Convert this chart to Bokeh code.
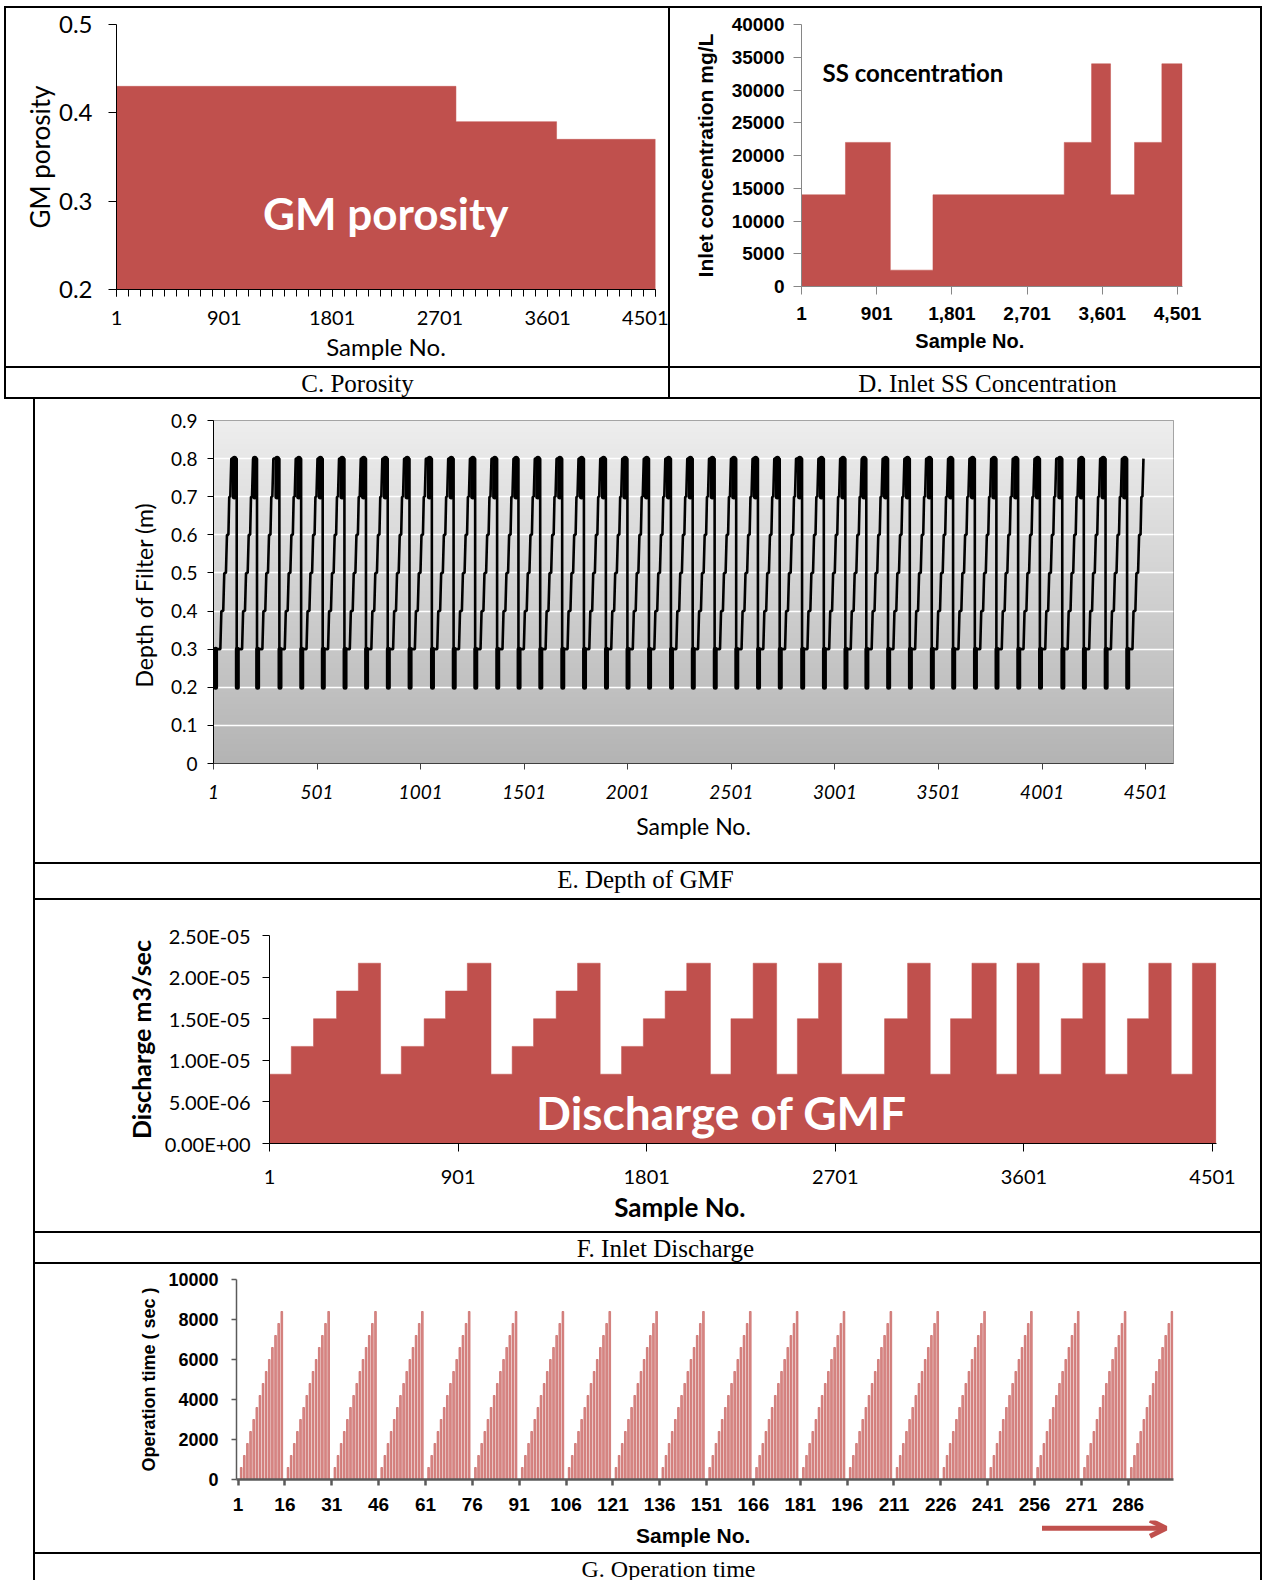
import numpy as np
from bokeh.plotting import figure
from bokeh.layouts import row, column
from bokeh.models import (Range1d, FixedTicker, Label, Arrow, OpenHead,
                          NumeralTickFormatter, CustomJSTickFormatter)
from bokeh.embed import file_html
from bokeh.resources import INLINE

RED = "#C0504D"
NBSP = "\u00a0"

# ---------------- data ----------------
# C. GM porosity (step values by sample number)
por_start = [1, 2835, 3675]
por_value = [0.43, 0.39, 0.37]
por_last = 4501

# D. Inlet SS concentration (mg/L)
ss_start = [1, 527, 1064, 1574, 3145, 3472, 3699, 3986, 4313]
ss_value = [14000, 22000, 2500, 14000, 22000, 34000, 14000, 22000, 34000]
ss_last = 4555

# E. Depth of filter: sample at which each cycle drops back to the bottom,
# and the staircase (offset from drop, depth) followed inside every cycle
depth_drop = [5, 110, 208, 316, 421, 525, 630, 734, 839, 944, 1052, 1157, 1261,
              1367, 1470, 1575, 1681, 1786, 1892, 1996, 2100, 2206, 2311, 2417,
              2521, 2626, 2731, 2839, 2944, 3048, 3149, 3254, 3359, 3465, 3568,
              3673, 3777, 3882, 3987, 4095, 4199, 4304, 4408]
depth_stair_offset = [3, 29, 34, 43, 48, 56, 61, 68, 72, 77, 82]
depth_stair_level = [0.3, 0.3, 0.4, 0.4, 0.5, 0.5, 0.6, 0.6, 0.7, 0.7, 0.8]
depth_bottom = [0.2, 0.3]
depth_top = [0.7, 0.8]

# F. Inlet discharge (m3/sec)
q_start = [1, 105, 211, 321, 425, 531, 630, 739, 841, 945, 1058, 1159, 1261, 1369,
           1471, 1579, 1681, 1785, 1889, 1992, 2105, 2203, 2309, 2421, 2520, 2621,
           2731, 2936, 3046, 3154, 3251, 3353, 3469, 3568, 3674, 3779, 3882, 3989,
           4095, 4197, 4304, 4405]
q_value = [8.33e-6, 1.167e-5, 1.5e-5, 1.833e-5, 2.167e-5,
           8.33e-6, 1.167e-5, 1.5e-5, 1.833e-5, 2.167e-5,
           8.33e-6, 1.167e-5, 1.5e-5, 1.833e-5, 2.167e-5,
           8.33e-6, 1.167e-5, 1.5e-5, 1.833e-5, 2.167e-5,
           8.33e-6, 1.5e-5, 2.167e-5,
           8.33e-6, 1.5e-5, 2.167e-5,
           8.33e-6, 1.5e-5, 2.167e-5,
           8.33e-6, 1.5e-5, 2.167e-5,
           8.33e-6, 2.167e-5,
           8.33e-6, 1.5e-5, 2.167e-5,
           8.33e-6, 1.5e-5, 2.167e-5,
           8.33e-6, 2.167e-5]
q_last = 4517

# G. Operation time (sec): one filtration run of 15 samples, repeated
op_run = [0, 600, 1200, 1800, 2400, 3000, 3600, 4200, 4800, 5400, 6000, 6600,
          7200, 7800, 8400]
op_runs = 20

c_ticks = [1, 901, 1801, 2701, 3601, 4501]
e_ticks = [1, 501, 1001, 1501, 2001, 2501, 3001, 3501, 4001, 4501]
g_ticks = [1, 16, 31, 46, 61, 76, 91, 106, 121, 136, 151, 166, 181, 196, 211,
           226, 241, 256, 271, 286]

WHITE_HOST = {"background-color": "white"}


def mkfig(w, h, xr, yr, left, right, top, bottom, **kw):
    p = figure(width=w, height=h, x_range=xr, y_range=yr, output_backend="svg",
               toolbar_location=None, min_border_left=left, min_border_right=right,
               min_border_top=top, min_border_bottom=bottom, frame_align=False,
               styles=WHITE_HOST, **kw)
    p.outline_line_color = None
    p.xgrid.visible = False
    p.ygrid.visible = False
    p.background_fill_color = "white"
    p.border_fill_color = "white"
    return p


def style(ax, font, size, bold=False, italic=False, line_color="black",
          tick_out=7, standoff=10, lab_font=None, lab_size=None, lab_bold=False,
          lab_standoff=6, width=1):
    ax.major_label_text_font = font
    ax.major_label_text_font_size = size
    ax.major_label_text_font_style = ("bold" if bold else ("italic" if italic else "normal"))
    ax.major_label_text_color = "black"
    ax.axis_line_color = line_color
    ax.axis_line_width = width
    ax.major_tick_line_color = line_color
    ax.major_tick_line_width = width
    ax.minor_tick_line_color = line_color
    ax.major_tick_out = tick_out
    ax.major_tick_in = 0
    ax.minor_tick_out = 0
    ax.minor_tick_in = 0
    ax.major_label_standoff = standoff
    ax.axis_label_text_font = lab_font or font
    ax.axis_label_text_font_size = lab_size or size
    ax.axis_label_text_font_style = "bold" if lab_bold else "normal"
    ax.axis_label_text_color = "black"
    ax.axis_label_standoff = lab_standoff


def step_patch(p, starts, values, last, base):
    xs, ys = [starts[0]], [base]
    ends = starts[1:] + [last]
    for s, e, v in zip(starts, ends, values):
        xs += [s, e]
        ys += [v, v]
    xs.append(last)
    ys.append(base)
    p.patch(xs, ys, fill_color=RED, line_color=RED, line_width=0.5)


def blank(w, h, xr, yr, left=0, right=0):
    p = figure(width=w, height=h, x_range=xr, y_range=yr, output_backend="svg",
               toolbar_location=None, x_axis_type=None, y_axis_type=None,
               min_border_left=left, min_border_right=right, min_border_top=0,
               min_border_bottom=0, frame_align=False, styles=WHITE_HOST)
    p.outline_line_color = None
    p.background_fill_color = "white"
    p.border_fill_color = "white"
    return p


def caption(w, h, text, cx, cy, size="25px"):
    p = blank(w, h, Range1d(0, w), Range1d(0, h))
    p.add_layout(Label(x=cx, y=h - cy, text=text, text_align="center",
                       text_baseline="middle", text_font="Liberation Serif",
                       text_font_size=size, text_color="black"))
    return p


# ---------------- C. Porosity ----------------
pC = mkfig(662, 358, Range1d(1, 4501), Range1d(0.2, 0.5), 110, 13, 16, 77)
step_patch(pC, por_start, por_value, por_last, 0.2)
pC.xaxis.ticker = FixedTicker(ticks=c_ticks, minor_ticks=list(range(1, 4502, 100)))
pC.yaxis.ticker = FixedTicker(ticks=[0.2, 0.3, 0.4, 0.5])
style(pC.xaxis[0], "Lato", "20px", tick_out=7, standoff=14, lab_size="24px", lab_standoff=4)
pC.xaxis.minor_tick_out = 7
style(pC.yaxis[0], "Lato", "24px", tick_out=8, standoff=16, lab_size="26px", lab_standoff=0)
pC.xaxis.axis_label = "Sample No."
pC.yaxis.axis_label = "GM porosity"
pC.add_layout(Label(x=2249, y=0.2864, text="GM porosity", text_align="center",
                    text_baseline="middle", text_font="Lato", text_font_style="bold",
                    text_font_size="44px", text_color="white"))

# ---------------- D. Inlet SS ----------------
pD = mkfig(590, 358, Range1d(1, 4560), Range1d(0, 40000), 131, 78, 16, 80)
step_patch(pD, ss_start, ss_value, ss_last, 0)
pD.xaxis.ticker = FixedTicker(ticks=c_ticks)
pD.xaxis.formatter = NumeralTickFormatter(format="0,0")
pD.yaxis.ticker = FixedTicker(ticks=list(range(0, 40001, 5000)))
style(pD.xaxis[0], "Liberation Sans", "19px", bold=True, line_color="#868686", tick_out=8,
      standoff=12, lab_size="20px", lab_bold=True, lab_standoff=7)
style(pD.yaxis[0], "Liberation Sans", "19px", bold=True, line_color="#868686", tick_out=8,
      standoff=9, lab_size="21px", lab_bold=True, lab_standoff=12)
pD.xaxis.axis_label = "Sample No." + NBSP * 8
pD.yaxis.axis_label = "Inlet concentration mg/L"
pD.add_layout(Label(x=252, y=32700, text="SS concentration", text_align="left",
                    text_baseline="middle", text_font="Lato", text_font_style="bold",
                    text_font_size="24px", text_color="black"))

# ---------------- E. Depth of GMF ----------------
E_X0, E_X1 = 1, 4635
pE = mkfig(1225, 463, Range1d(E_X0, E_X1), Range1d(0, 0.9), 178, 87, 21, 99)
grad = np.empty((256, 1), dtype=np.uint32)
gv = grad.view(dtype=np.uint8).reshape((256, 1, 4))
shade = np.linspace(180, 238, 256).astype(np.uint8)
gv[:, 0, 0] = shade
gv[:, 0, 1] = shade
gv[:, 0, 2] = shade
gv[:, 0, 3] = 255
rimg = pE.image_rgba(image=[grad], x=E_X0, y=0, dw=E_X1 - E_X0, dh=0.9)
rimg.level = "image"
pE.ygrid.visible = True
pE.ygrid.grid_line_color = "white"
pE.ygrid.grid_line_width = 1.5
pE.outline_line_color = "#8c8c8c"
ex, ey = [], []
for k, T in enumerate(depth_drop):
    if k > 0:
        ex.append(T + depth_stair_offset[0])
        ey.append(depth_top[1])
    for off, lev in zip(depth_stair_offset, depth_stair_level):
        ex.append(min(T + off, 4501))
        ey.append(lev)
pE.line(ex, ey, line_color="black", line_width=2.6)
bt = [T + 6 for T in depth_drop]
pE.segment(x0=bt, y0=[depth_bottom[0]] * len(bt), x1=bt, y1=[depth_bottom[1]] * len(bt),
           line_color="black", line_width=5, line_cap="round")
tt = [T - 8 for T in depth_drop[1:]]
pE.segment(x0=tt, y0=[depth_top[0]] * len(tt), x1=tt, y1=[depth_top[1]] * len(tt),
           line_color="black", line_width=5.5, line_cap="round")
pE.xaxis.ticker = FixedTicker(ticks=e_ticks)
yt = [0, 0.1, 0.2, 0.3, 0.4, 0.5, 0.6, 0.7, 0.8, 0.9]
pE.yaxis.ticker = FixedTicker(ticks=yt)
pE.ygrid.ticker = FixedTicker(ticks=yt)
pE.yaxis.major_label_overrides = {0: "0"}
style(pE.xaxis[0], "Lato", "19px", italic=True, line_color="#404040", tick_out=6, standoff=15,
      lab_size="23px", lab_standoff=10)
style(pE.yaxis[0], "Lato", "19px", line_color="black", tick_out=6, standoff=10,
      lab_size="23px", lab_standoff=10)
pE.xaxis.axis_label = "Sample No."
pE.yaxis.axis_label = "Depth  of Filter (m)"

# ---------------- F. Inlet Discharge ----------------
pF = mkfig(1225, 331, Range1d(1, 4520), Range1d(0, 2.5e-5), 234, 44, 35, 88)
step_patch(pF, q_start, q_value, q_last, 0)
pF.xaxis.ticker = FixedTicker(ticks=c_ticks)
pF.yaxis.ticker = FixedTicker(ticks=[0, 5e-6, 1e-5, 1.5e-5, 2e-5, 2.5e-5])
pF.yaxis.formatter = CustomJSTickFormatter(code="""
var s = tick.toExponential(2).toUpperCase();
return s.replace(/E([+-])(\\d)$/, function(m, a, b) { return "E" + a + "0" + b; });
""")
style(pF.xaxis[0], "Lato", "20px", tick_out=8, standoff=18, lab_size="26px", lab_bold=True,
      lab_standoff=4)
style(pF.yaxis[0], "Lato", "20px", tick_out=7, standoff=12, lab_size="25px", lab_bold=True,
      lab_standoff=6)
pF.xaxis.axis_label = "Sample No." + NBSP * 20
pF.yaxis.axis_label = "Discharge m3/sec"
pF.add_layout(Label(x=2158, y=3.73e-6, text="Discharge of GMF", text_align="center",
                    text_baseline="middle", text_font="Lato", text_font_style="bold",
                    text_font_size="46px", text_color="white"))

# ---------------- G. Operation time ----------------
op_sample = list(range(1, op_runs * len(op_run) + 1))
op_time = op_run * op_runs
G_XR = (0.5, 300.5)
pG = mkfig(1225, 256, Range1d(*G_XR), Range1d(0, 10000), 201, 87, 15, 41)
pG.vbar(x=op_sample, top=op_time, width=0.55, bottom=0, fill_color="#DC8F8D",
        line_color=RED, line_width=0.6)
pG.xaxis.ticker = FixedTicker(ticks=g_ticks)
pG.yaxis.ticker = FixedTicker(ticks=list(range(0, 10001, 2000)))
style(pG.xaxis[0], "Liberation Sans", "19px", bold=True, line_color="#5a5a5a", tick_out=6,
      standoff=12, width=2.5)
style(pG.yaxis[0], "Liberation Sans", "18px", bold=True, line_color="#5a5a5a", tick_out=5,
      standoff=13, lab_size="18px", lab_bold=True, lab_standoff=6, width=1.5)
pG.yaxis.axis_label = "Operation time ( sec )"

# strip under G axis holding its x title and the red arrow
pGs = blank(1225, 32, Range1d(*G_XR), Range1d(0, 32), left=201, right=87)
pGs.add_layout(Label(x=146.7, y=17, text="Sample No.", text_align="center",
                     text_baseline="middle", text_font="Liberation Sans",
                     text_font_style="bold", text_font_size="21px", text_color="black"))
pGs.add_layout(Arrow(end=OpenHead(size=16, line_color=RED, line_width=5),
                     x_start=258.4, y_start=24.3, x_end=298.1, y_end=24.3,
                     line_color=RED, line_width=5))

# ---------------- captions & tables ----------------
capC = caption(662, 29, "C. Porosity", 351, 15)
capD = caption(590, 29, "D. Inlet SS Concentration", 317, 15)
capE = caption(1225, 34, "E.  Depth of GMF", 613, 15)
capF = caption(1225, 29, "F.  Inlet Discharge", 633, 15)
capG = caption(1225, 26, "G. Operation time", 633, 14, size="24px")

top_table = column(row(pC, pD, spacing=2), row(capC, capD, spacing=2), spacing=2,
                   styles={"background-color": "black", "padding": "2px"},
                   margin=(6, 0, 0, 4))
low_table = column(pE, capE, pF, capF, column(pG, pGs, spacing=0), capG, spacing=2,
                   styles={"background-color": "black", "padding": "0px 2px 0px 2px"},
                   margin=(0, 0, 0, 33))
page = column(top_table, low_table, spacing=0)

open("out.html", "w").write(file_html(page, INLINE))
